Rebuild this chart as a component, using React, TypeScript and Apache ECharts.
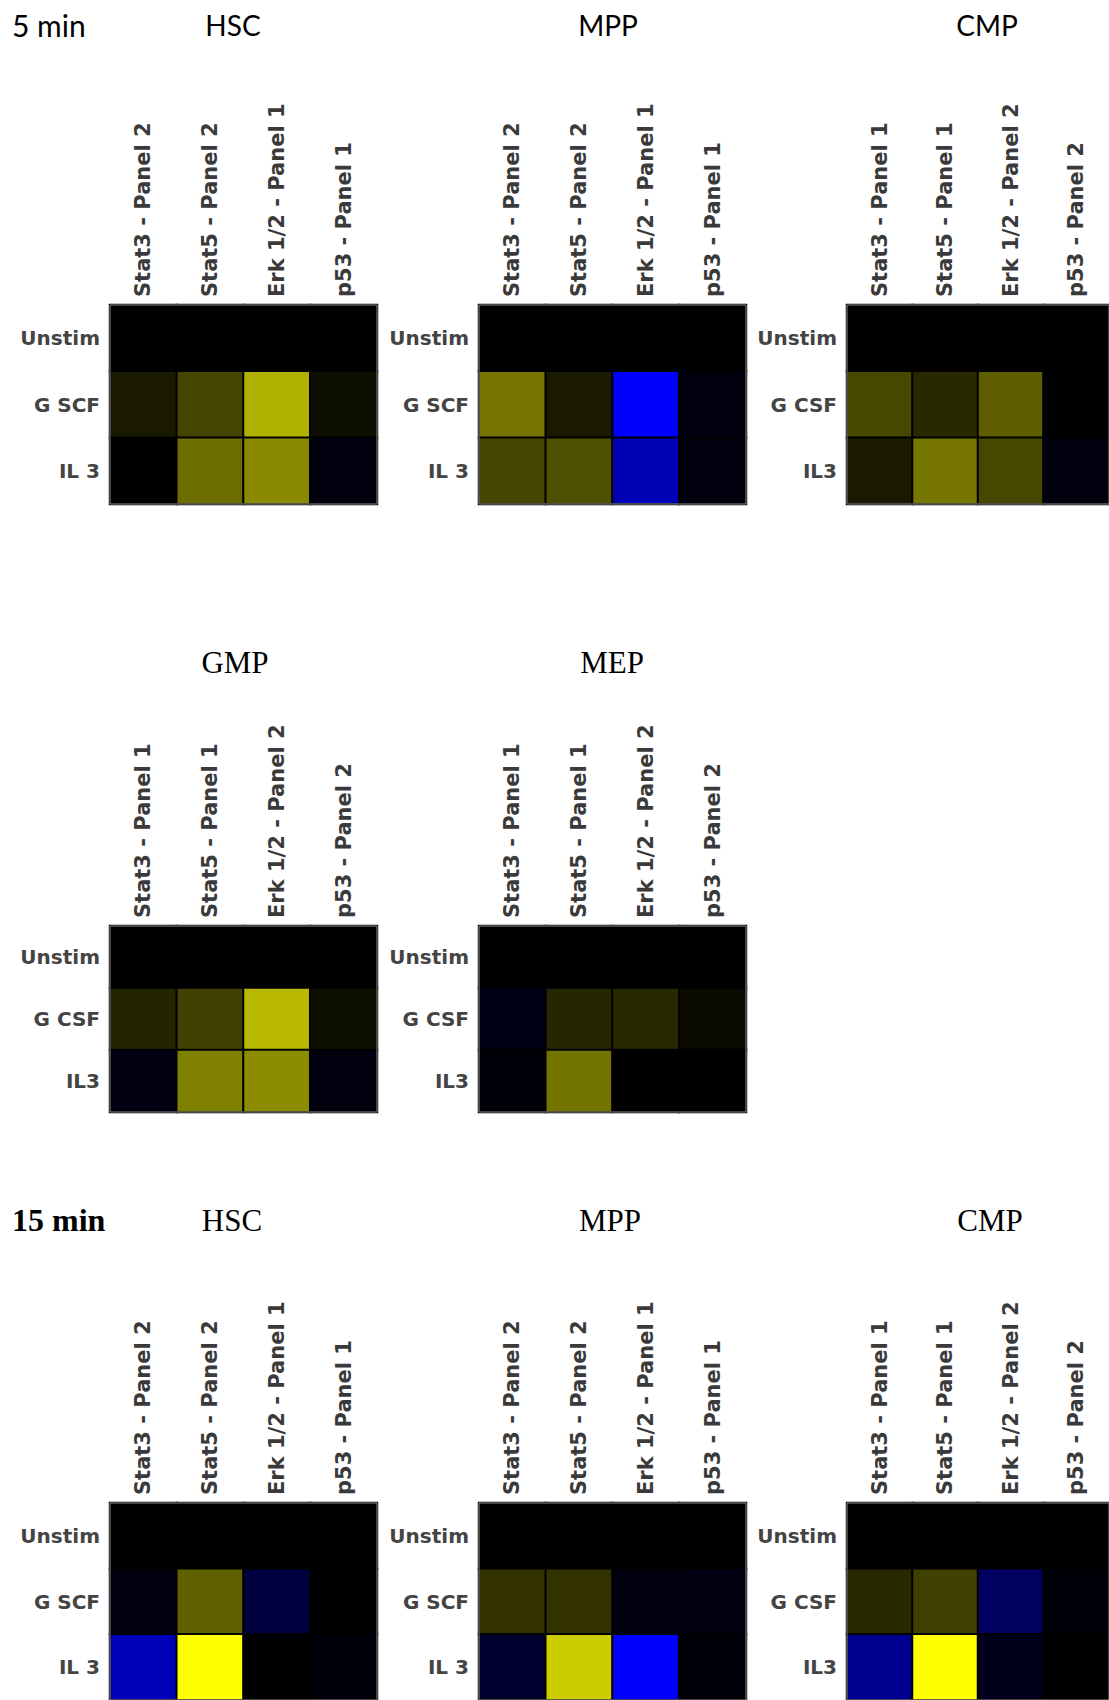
import React, { useEffect, useRef } from "react";
import * as echarts from "echarts";

// Column (marker) categories
const colsPanelA = ["Stat3 - Panel 2", "Stat5 - Panel 2", "Erk 1/2 - Panel 1", "p53 - Panel 1"];
const colsPanelB = ["Stat3 - Panel 1", "Stat5 - Panel 1", "Erk 1/2 - Panel 2", "p53 - Panel 2"];
// Row (stimulation) categories
const rowsSCF = ["Unstim", "G SCF", "IL 3"];
const rowsCSF = ["Unstim", "G CSF", "IL3"];

// Values: positive = yellow, negative = blue, [row][col]
const hsc5 = [
  [0, 0, 0, 0],
  [0.1, 0.27, 0.69, 0.05],
  [0, 0.43, 0.54, -0.06],
];
const mpp5 = [
  [0, 0, 0, 0],
  [0.46, 0.1, -1.0, -0.06],
  [0.27, 0.31, -0.71, -0.06],
];
const cmp5 = [
  [0, 0, 0, 0],
  [0.28, 0.16, 0.37, 0],
  [0.1, 0.46, 0.28, -0.06],
];
const gmp5 = [
  [0, 0, 0, 0],
  [0.14, 0.25, 0.72, 0.06],
  [-0.07, 0.5, 0.55, -0.06],
];
const mep5 = [
  [0, 0, 0, 0],
  [-0.08, 0.15, 0.16, 0.04],
  [-0.03, 0.45, 0, 0],
];
const hsc15 = [
  [0, 0, 0, 0],
  [-0.06, 0.38, -0.25, 0],
  [-0.72, 1.0, 0, -0.04],
];
const mpp15 = [
  [0, 0, 0, 0],
  [0.2, 0.2, -0.06, -0.07],
  [-0.18, 0.8, -1.0, -0.03],
];
const cmp15 = [
  [0, 0, 0, 0],
  [0.16, 0.25, -0.38, -0.03],
  [-0.56, 1.0, -0.1, 0],
];

const panels = [
  { cols: colsPanelA, rows: rowsSCF, values: hsc5 },
  { cols: colsPanelA, rows: rowsSCF, values: mpp5 },
  { cols: colsPanelB, rows: rowsCSF, values: cmp5 },
  { cols: colsPanelB, rows: rowsCSF, values: gmp5 },
  { cols: colsPanelB, rows: rowsCSF, values: mep5 },
  { cols: colsPanelA, rows: rowsSCF, values: hsc15 },
  { cols: colsPanelA, rows: rowsSCF, values: mpp15 },
  { cols: colsPanelB, rows: rowsCSF, values: cmp15 },
];

// Layout (positions only)
const gridLayout = [
  { left: 110, top: 305, height: 199 },
  { left: 479, top: 305, height: 199 },
  { left: 847, top: 305, height: 199 },
  { left: 110, top: 926, height: 186 },
  { left: 479, top: 926, height: 186 },
  { left: 110, top: 1503, height: 200 },
  { left: 479, top: 1503, height: 200 },
  { left: 847, top: 1503, height: 200 },
];
const GRID_W = 267;

const headerTexts = [
  { text: "5 min", x: 12, y: 25, font: "Lato, 'Open Sans', sans-serif", size: 30, weight: "normal", align: "left" },
  { text: "HSC", x: 233, y: 25, font: "Lato, 'Open Sans', sans-serif", size: 28, weight: "normal", align: "center" },
  { text: "MPP", x: 608, y: 25, font: "Lato, 'Open Sans', sans-serif", size: 28, weight: "normal", align: "center" },
  { text: "CMP", x: 987, y: 25, font: "Lato, 'Open Sans', sans-serif", size: 28, weight: "normal", align: "center" },
  { text: "GMP", x: 235, y: 662, font: "'Liberation Serif', serif", size: 31, weight: "normal", align: "center" },
  { text: "MEP", x: 612, y: 662, font: "'Liberation Serif', serif", size: 31, weight: "normal", align: "center" },
  { text: "15 min", x: 12, y: 1220, font: "'Liberation Serif', serif", size: 32, weight: "bold", align: "left" },
  { text: "HSC", x: 232, y: 1220, font: "'Liberation Serif', serif", size: 31, weight: "normal", align: "center" },
  { text: "MPP", x: 610, y: 1220, font: "'Liberation Serif', serif", size: 31, weight: "normal", align: "center" },
  { text: "CMP", x: 990, y: 1220, font: "'Liberation Serif', serif", size: 31, weight: "normal", align: "center" },
];

export default function App() {
  const ref = useRef<HTMLDivElement>(null);
  useEffect(() => {
    document.body.style.margin = "0";
    document.body.style.overflow = "hidden";
    const chart = echarts.init(ref.current!, null, { renderer: "svg" });
    const grids = gridLayout.map((g) => ({
      left: g.left,
      top: g.top,
      width: GRID_W,
      height: g.height,
      show: true,
      borderColor: "#8c8c8c",
      borderWidth: 1,
      backgroundColor: "transparent",
      z: 5,
    }));
    const xAxes = panels.map((p, i) => ({
      type: "category",
      gridIndex: i,
      position: "top",
      data: p.cols,
      axisLine: { show: false },
      axisTick: { show: false },
      splitLine: { show: false },
      axisLabel: {
        rotate: -90,
        margin: 8,
        fontFamily: "'DejaVu Sans', sans-serif",
        fontWeight: "bold",
        fontSize: 21,
        color: "#3a3a3a",
        interval: 0,
      },
    }));
    const yAxes = panels.map((p, i) => ({
      type: "category",
      gridIndex: i,
      inverse: true,
      data: p.rows,
      axisLine: { show: false },
      axisTick: { show: false },
      splitLine: { show: false },
      axisLabel: {
        margin: 10,
        fontFamily: "'DejaVu Sans', sans-serif",
        fontWeight: "bold",
        fontSize: 20,
        color: "#444",
        interval: 0,
      },
    }));
    const series = panels.map((p, i) => {
      const data: [number, number, number][] = [];
      p.values.forEach((row, r) => row.forEach((v, c) => data.push([c, r, v])));
      return {
        type: "heatmap",
        xAxisIndex: i,
        yAxisIndex: i,
        data,
        itemStyle: { borderColor: "#000", borderWidth: 2 },
        emphasis: { disabled: true },
      };
    });
    chart.setOption({
      animation: false,
      backgroundColor: "#fff",
      grid: grids,
      xAxis: xAxes,
      yAxis: yAxes,
      visualMap: {
        type: "continuous",
        show: false,
        min: -1,
        max: 1,
        seriesIndex: panels.map((_, i) => i),
        inRange: { color: ["#0000ff", "#000000", "#ffff00"] },
      },
      series,
      graphic: headerTexts.map((t) => ({
        type: "text",
        x: t.x,
        y: t.y,
        style: {
          text: t.text,
          fontFamily: t.font,
          fontSize: t.size,
          fontWeight: t.weight,
          fill: "#000",
          textAlign: t.align,
          textVerticalAlign: "middle",
        },
      })),
    });
    return () => chart.dispose();
  }, []);
  return <div ref={ref} style={{ width: 1109, height: 1700 }} />;
}
